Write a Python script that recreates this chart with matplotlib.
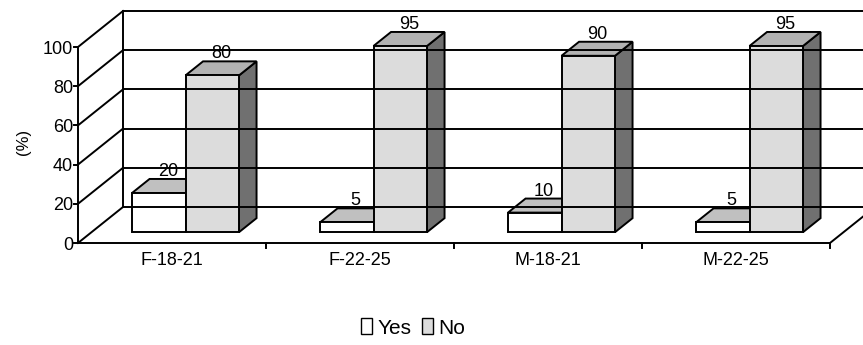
import matplotlib
matplotlib.use('Agg')
import matplotlib.pyplot as plt
from matplotlib.patches import Polygon, Patch

plt.rcParams['font.family'] = ['Liberation Sans', 'DejaVu Sans']

# data
categories = ['F-18-21', 'F-22-25', 'M-18-21', 'M-22-25']
series = ['Yes', 'No']
yes = [20, 5, 10, 5]
no = [80, 95, 90, 95]
yticks = [0, 20, 40, 60, 80, 100]

# colours per series: front, top, side
front_col = ['#ffffff', '#dcdcdc']
top_col = ['#c0c0c0', '#b2b2b2']
side_col = ['#8a8a8a', '#707070']

# pseudo-3d layout in pixels
X0, CAT_W, Y0, PX = 78, 188, 243, 1.96
DX, DY = 45, 36
D0, D1 = 0.30, 0.69
GAP, BAR_W = 40.5 / 188, 53.5 / 188
LW = 1.4


def proj(xc, d, v):
    return (X0 + CAT_W * xc + DX * d, Y0 - DY * d - PX * v)


fig = plt.figure(figsize=(8.63, 3.45), dpi=100)
ax = fig.add_axes([0, 0, 1, 1])
ax.set_xlim(0, 863)
ax.set_ylim(345, 0)
ax.axis('off')

n = len(categories)


def line(p, q, **kw):
    ax.plot([p[0], q[0]], [p[1], q[1]], color='black', lw=LW,
            solid_capstyle='projecting', **kw)


# walls and floor
for v in yticks:
    line(proj(0, 1, v), proj(n + 0.5, 1, v))
    line(proj(0, 0, v), proj(0, 1, v))
    line(proj(0, 0, v), (proj(0, 0, v)[0] - 4, proj(0, 0, v)[1]))
    ax.text(proj(0, 0, v)[0] - 5, proj(0, 0, v)[1] + 2, str(v),
            ha='right', va='center', fontsize=13)
line(proj(0, 1, 0), proj(0, 1, 100))
line(proj(0, 0, 0), proj(0, 0, 100))
line(proj(0, 0, 0), proj(n, 0, 0))
line(proj(n, 0, 0), proj(n, 1, 0))
for i in range(1, n + 1):
    p = proj(i, 0, 0)
    line(p, (p[0], p[1] + 5))

# bars
vals = [yes, no]
for i, cat in enumerate(categories):
    for s in range(len(series)):
        v = vals[s][i]
        xl = i + GAP + s * BAR_W
        xr = xl + BAR_W
        front = [proj(xl, D0, 0), proj(xr, D0, 0), proj(xr, D0, v), proj(xl, D0, v)]
        top = [proj(xl, D0, v), proj(xr, D0, v), proj(xr, D1, v), proj(xl, D1, v)]
        side = [proj(xr, D0, 0), proj(xr, D1, 0), proj(xr, D1, v), proj(xr, D0, v)]
        for pts, c in [(side, side_col[s]), (top, top_col[s]), (front, front_col[s])]:
            ax.add_patch(Polygon(pts, closed=True, facecolor=c, edgecolor='black',
                                 lw=LW, joinstyle='miter'))
        lx = proj(xl + BAR_W / 2, 0.5, v)[0]
        ly = proj(xl, D1, v)[1] + 1
        ax.text(lx, ly, str(v), ha='center', va='bottom', fontsize=13)
    cx = proj(i + 0.5, 0, 0)
    ax.text(cx[0], cx[1] + 9, cat, ha='center', va='top', fontsize=13)

ax.text(23, 142, '(%)', rotation=90, ha='center', va='center', fontsize=12)

handles = [Patch(facecolor=front_col[s], edgecolor='black', lw=1.0) for s in range(2)]
fig.legend(handles, series, loc='center', bbox_to_anchor=(413 / 863, 1 - 328 / 345),
           ncol=2, frameon=False, fontsize=15, handlelength=0.55, handleheight=0.8,
           handletextpad=0.25, columnspacing=0.5)

fig.savefig('out.png', dpi=100)
